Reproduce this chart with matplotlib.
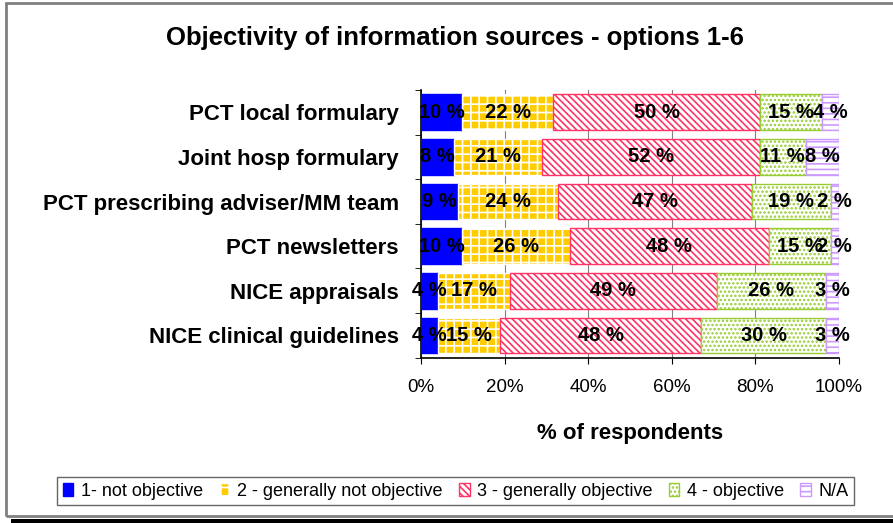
import numpy as np
import matplotlib.pyplot as plt
from matplotlib.patches import Rectangle

plt.rcParams['font.family'] = ['Liberation Sans', 'DejaVu Sans']
plt.rcParams['hatch.linewidth'] = 1.2

categories = ["PCT local formulary", "Joint hosp formulary",
              "PCT prescribing adviser/MM team", "PCT newsletters",
              "NICE appraisals", "NICE clinical guidelines"]
series_names = ["1- not objective", "2 - generally not objective",
                "3 - generally objective", "4 - objective", "N/A"]
not_objective = [10, 8, 9, 10, 4, 4]
generally_not = [22, 21, 24, 26, 17, 15]
generally_obj = [50, 52, 47, 48, 49, 48]
objective = [15, 11, 19, 15, 26, 30]
not_applicable = [4, 8, 2, 2, 3, 3]

series = [not_objective, generally_not, generally_obj, objective, not_applicable]
faces = ['#0000FF', '#FFCC00', 'white', 'white', 'white']
edges = ['#0000FF', 'white', '#FF3366', '#99CC33', '#CC99FF']
hatches = [None, '++', '\\\\\\\\\\', '....', '---']

fig = plt.figure(figsize=(8.93, 5.23), dpi=100)
ax = fig.add_axes([0.4715, 0.316, 0.468, 0.512])

data = np.array(series, dtype=float)
totals = data.sum(axis=0)
shares = data / totals * 100
y = np.arange(len(categories))
left = np.zeros(len(categories))
handles = []
for i in range(len(series)):
    b = ax.barh(y, shares[i], left=left, height=0.8, color=faces[i],
                edgecolor=edges[i], hatch=hatches[i], linewidth=1.0,
                label=series_names[i], zorder=3)
    handles.append(b)
    for j in range(len(categories)):
        ax.text(left[j] + shares[i][j] / 2, y[j], "%d %%" % series[i][j],
                ha='center', va='center', fontsize=14.5, fontweight='bold',
                zorder=5)
    left += shares[i]

ax.set_xlim(0, 100)
ax.set_ylim(len(categories) - 0.5, -0.5)
ax.set_xticks(np.arange(0, 101, 20))
ax.set_xticklabels(["%d%%" % v for v in range(0, 101, 20)], fontsize=13.5)
ax.set_yticks(y)
ax.set_yticklabels(categories, fontsize=16, fontweight='bold')
ax.set_yticks(np.arange(-0.5, len(categories), 1), minor=True)
ax.tick_params(axis='y', which='major', length=0, pad=16)
ax.tick_params(axis='y', which='minor', length=4, direction='out')
ax.tick_params(axis='x', length=4, direction='out', pad=11)
ax.xaxis.grid(True, color='#808080', linewidth=0.8, zorder=0)
ax.spines['top'].set_visible(False)
ax.spines['right'].set_visible(False)
ax.spines['left'].set_linewidth(1.2)
ax.spines['bottom'].set_linewidth(1.2)
ax.set_xlabel("% of respondents", fontsize=16, fontweight='bold', labelpad=20)

fig.text(0.51, 0.928, "Objectivity of information sources - options 1-6",
         ha='center', va='center', fontsize=18.5, fontweight='bold')

leg = fig.legend(handles=handles, loc='center', bbox_to_anchor=(0.51, 0.061),
                 ncol=5, fontsize=13, frameon=True, fancybox=False,
                 handlelength=0.6, handleheight=0.8, handletextpad=0.4,
                 columnspacing=0.9, borderpad=0.3)
leg.get_frame().set_edgecolor('#404040')
leg.get_frame().set_linewidth(1.0)

# chart border
fig.patches.append(Rectangle((6 / 893, 7 / 523), 2.0, 513 / 523, transform=fig.transFigure,
                             fill=False, edgecolor='#808080', linewidth=2.0))
fig.patches.append(Rectangle((11 / 893, 0), 1.0, 4 / 523, transform=fig.transFigure,
                             facecolor='black', edgecolor='none'))

fig.savefig("out.png", dpi=100)
